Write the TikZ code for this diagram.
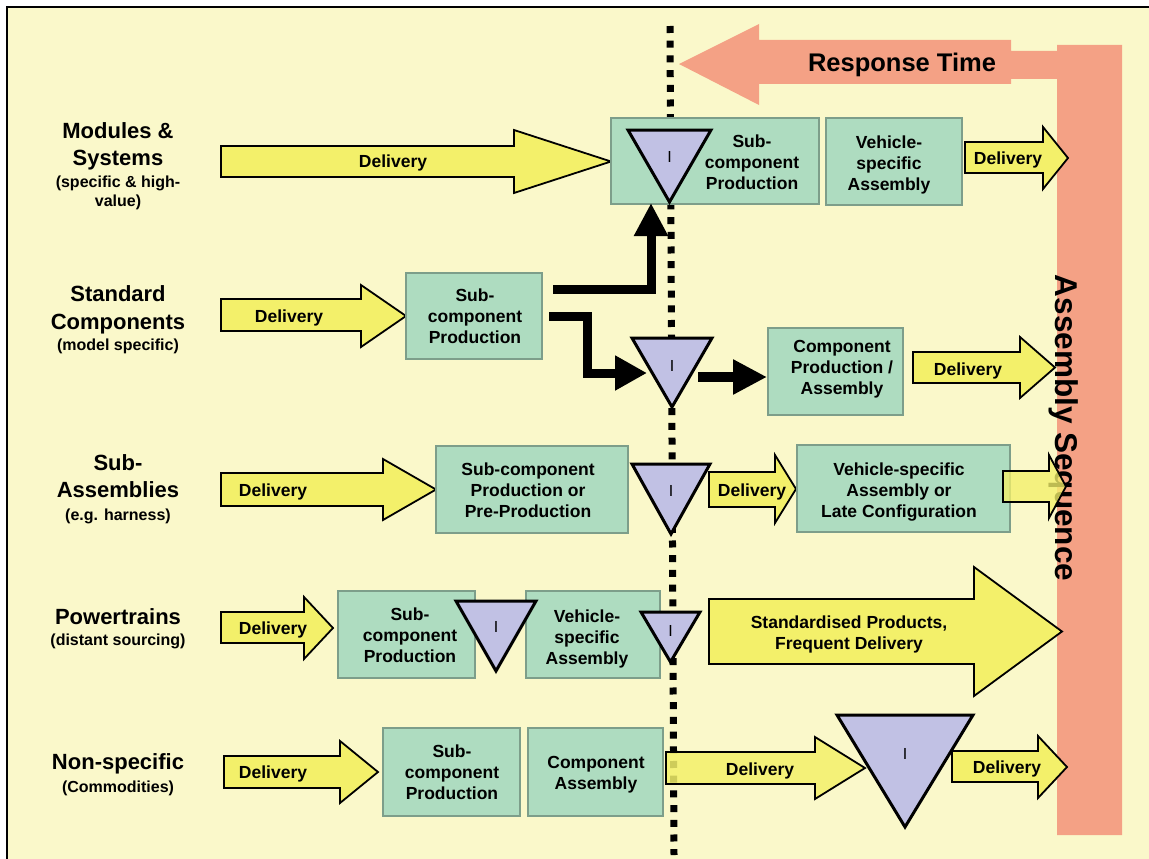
\documentclass[tikz,border=0pt]{standalone}
\usepackage{fontspec}
\setmainfont{Liberation Sans}
\usetikzlibrary{arrows.meta}

\definecolor{paper}{RGB}{250,248,202}
\definecolor{ylw}{RGB}{243,240,106}
\definecolor{grn}{RGB}{174,220,192}
\definecolor{grnedge}{RGB}{125,158,138}
\definecolor{lav}{RGB}{193,193,228}
\definecolor{salmon}{RGB}{244,161,133}

\newcommand\boxfont{\fontsize{17.5}{21}\selectfont\bfseries}

% block arrow: [opts]{x0}{body top}{body bottom}{head x}{head top}{head bottom}{tip x}
\newcommand\blockarrow[8][]{%
  \draw[yarrow,#1] (#2,#3) -- (#5,#3) -- (#5,#6) -- (#8,{(#6+#7)/2})
    -- (#5,#7) -- (#5,#4) -- (#2,#4) -- cycle;}

% inventory triangle: {name}{x left}{x right}{y top}{y bottom}{y of the letter}
\newcommand\invtri[6]{%
  \draw[invshape] (#2,#4) -- (#3,#4) -- ({(#2+#3)/2},#5) -- cycle;
  \node[itext] (#1) at ({(#2+#3)/2},#6) {I};}

\begin{document}
\begin{tikzpicture}[x=1pt,y=-1pt,
  yarrow/.style={fill=ylw,draw=black,line width=1.8pt,line join=miter},
  gbox/.style={fill=grn,draw=grnedge,line width=1.2pt,inner sep=0pt},
  btext/.style={font=\boxfont,align=center,inner sep=0pt},
  atext/.style={font=\boxfont,inner sep=0pt,text height=12.5pt,text depth=0pt},
  invshape/.style={fill=lav,draw=black,line width=3pt,line join=miter},
  itext/.style={font=\fontsize{16}{16}\selectfont,inner sep=0pt,text height=11.5pt,text depth=0pt},
  bigl/.style={font=\fontsize{22}{27}\selectfont\bfseries,inner sep=0pt,text height=15.7pt,text depth=0pt},
  smalll/.style={font=\fontsize{16}{19}\selectfont\bfseries,inner sep=0pt,text height=11.5pt,text depth=0pt},
  blk/.style={draw=black,line width=9pt,line join=miter}]

\useasboundingbox (0,0) rectangle (1149,859);
\fill[white] (0,0) rectangle (1149,859);
\fill[paper] (7,7) rectangle (1149,859);
\draw[black,line width=2pt] (7,859) -- (7,7) -- (1149,7);

% response-time arrow joined to the assembly-sequence bar
\fill[salmon] (679,64) -- (759,24) -- (759,40) -- (1011,40) -- (1011,51)
  -- (1057,51) -- (1057,45) -- (1122,45) -- (1122,835) -- (1057,835)
  -- (1057,79) -- (1011,79) -- (1011,84) -- (759,84) -- (759,105) -- cycle;
\node[font=\fontsize{25.5}{25.5}\selectfont\bfseries,inner sep=0pt,text height=18.3pt,text depth=0pt]
  (resp) at (902,62) {Response Time};

% order decoupling line
\draw[line width=7pt,dash pattern=on 7pt off 7.7pt] (670,26) -- (674,855);

% row labels
\node[bigl] (l1a) at (118,131) {Modules \&};
\node[bigl] (l1b) at (118,158) {Systems};
\node[smalll] (l1c) at (118,182) {(specific \& high-};
\node[smalll] (l1d) at (118,201) {value)};
\node[bigl] (l2a) at (118,294) {Standard};
\node[bigl] (l2b) at (118,322) {Components};
\node[smalll] (l2c) at (118,345) {(model specific)};
\node[bigl] (l3a) at (118,463) {Sub-};
\node[bigl] (l3b) at (118,490) {Assemblies};
\node[smalll] (l3c) at (118,515) {(e.g. harness)};
\node[bigl] (l4a) at (118,617) {Powertrains};
\node[smalll] (l4b) at (118,640) {(distant sourcing)};
\node[bigl] (l5a) at (118,762) {Non-specific};
\node[smalll] (l5b) at (118,787) {(Commodities)};

% assembly sequence caption on the bar
\node[font=\fontsize{31.5}{31.5}\selectfont\bfseries,inner sep=0pt,rotate=-90,anchor=base]
  (seq) at (1055,428) {Assembly Sequence};

% ---- row 1: modules & systems
\blockarrow{221}{146}{177}{514}{130}{193}{611}
\node[atext] (d1a) at (393,161) {Delivery};
\node[gbox,minimum width=208pt,minimum height=86pt] (b1a) at (715,161) {};
\node[btext] (b1at) at (752,162) {Sub-\\component\\Production};
\node[gbox,minimum width=136pt,minimum height=87pt] (b1b) at (894,161.5) {};
\node[btext] (b1bt) at (889,165) {Vehicle-\\specific\\Assembly};
\blockarrow{965}{142}{173}{1043}{127}{189}{1068}
\node[atext] (d1b) at (1008,158) {Delivery};

% ---- row 2: standard components
\blockarrow{221}{299}{331}{361}{285}{347}{406}
\node[atext] (d2a) at (289,316) {Delivery};
\node[gbox,minimum width=136pt,minimum height=86pt] (b2) at (474,316) {};
\node[btext] (b2t) at (475,316) {Sub-\\component\\Production};
\node[gbox,minimum width=135pt,minimum height=87pt] (bcp) at (835.5,371.5) {};
\node[btext] (bcpt) at (842,369) {Component\\Production /\\Assembly};
\blockarrow{913}{352}{383}{1020}{337}{398}{1055}
\node[atext] (d2b) at (968,369) {Delivery};

% material flows of the standard components
\coordinate (ca0) at (553,289);
\coordinate (ca1) at (651,203);
\draw[blk,-{Triangle[width=32pt,length=33pt]}] (ca0) -| (ca1);
\coordinate (cb0) at (549,316);
\coordinate (cb1) at (587,373);
\coordinate (cb2) at (647,373);
\draw[blk,-{Triangle[width=33pt,length=32pt]}] (cb0) -| (cb1) -- (cb2);
\coordinate (cc0) at (698,377);
\coordinate (cc1) at (767,377);
\draw[blk,line width=10pt,-{Triangle[width=33pt,length=34pt]}] (cc0) -- (cc1);

\invtri{t1}{628}{711}{130}{202}{157}
\invtri{t2}{632}{712}{338}{407}{366}

% ---- row 3: sub-assemblies
\blockarrow{221}{473}{506}{383}{459}{520}{436}
\node[atext] (d3a) at (273,490) {Delivery};
\node[gbox,minimum width=192pt,minimum height=87pt] (b3a) at (532,489.5) {};
\node[btext] (b3at) at (528,490) {Sub-component\\Production or\\Pre-Production};
\blockarrow{709}{472}{507}{775}{455}{523}{796}
\node[atext] (d3b) at (752,490) {Delivery};
\node[gbox,minimum width=213pt,minimum height=87pt] (b3b) at (903.5,488.5) {};
\node[btext] (b3bt) at (899,492) {Vehicle-specific\\Assembly or\\Late Configuration};
\blockarrow[fill opacity=0.78]{1003}{471}{502}{1049}{455}{518}{1066}
\invtri{t3}{632}{710}{464}{534}{491}

% ---- row 4: powertrains
\blockarrow{221}{612}{643}{304}{597}{659}{333}
\node[atext] (d4a) at (273,628) {Delivery};
\node[gbox,minimum width=137pt,minimum height=87pt] (b4a) at (406.5,634.5) {};
\node[btext] (b4at) at (410,635) {Sub-\\component\\Production};
\node[gbox,minimum width=134pt,minimum height=87pt] (b4b) at (593,634.5) {};
\node[btext] (b4bt) at (587,638.5) {Vehicle-\\specific\\Assembly};
\invtri{t4a}{456}{536}{601}{671}{627}
\invtri{t4b}{641}{700}{612}{662}{631}
\blockarrow{709}{599}{664}{974}{567}{696}{1062}
\node[btext] (d4b) at (849,634) {Standardised Products,\\Frequent Delivery};

% ---- row 5: non-specific commodities
\blockarrow{224}{756}{788}{340}{741}{803}{378}
\node[atext] (d5a) at (273,772) {Delivery};
\node[gbox,minimum width=137pt,minimum height=88pt] (b5a) at (451.5,772) {};
\node[btext] (b5at) at (452,772) {Sub-\\component\\Production};
\node[gbox,minimum width=135pt,minimum height=88pt] (b5b) at (595.5,772) {};
\node[btext] (b5bt) at (596,775) {Component\\Assembly};
\blockarrow[fill opacity=0.85]{666}{752}{784}{815}{737}{799}{865}
\node[atext] (d5b) at (760,769) {Delivery};
\invtri{t5}{837}{973}{715}{827}{754}
\blockarrow{952}{751}{782}{1038}{736}{798}{1067}
\node[atext] (d5c) at (1007,767) {Delivery};

\end{tikzpicture}
\end{document}
